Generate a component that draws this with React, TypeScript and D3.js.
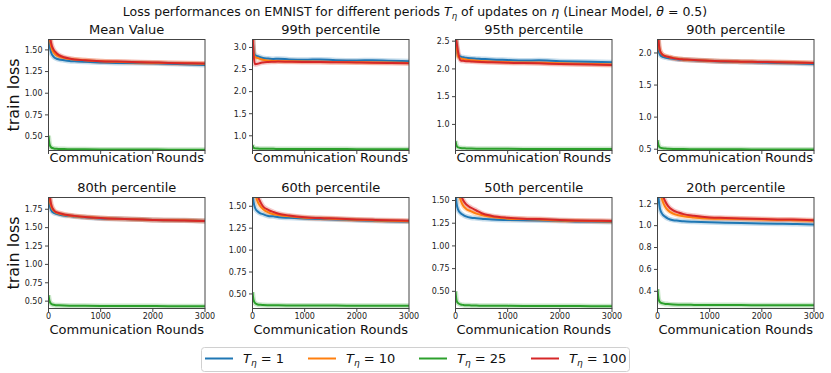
import React from 'react';
import * as d3 from 'd3';

// ---------- data ----------
const ROUNDS = [0, 20, 50, 100, 150, 200, 300, 400, 500, 700, 1000, 1300, 1600, 2000, 2300, 2600, 3000];
const X_TICKS = [0, 1000, 2000, 3000];
const SERIES_T = ['1', '10', '25', '100'];
const COLORS = ['#1f77b4', '#ff7f0e', '#2ca02c', '#d62728'];
const PANEL_TITLES = ['Mean Value', '99th percentile', '95th percentile', '90th percentile', '80th percentile', '60th percentile', '50th percentile', '20th percentile'];

const meanT1 = [1.62, 1.55, 1.47, 1.42, 1.40, 1.39, 1.38, 1.372, 1.368, 1.362, 1.355, 1.35, 1.348, 1.345, 1.34, 1.335, 1.325];
const meanT10 = [1.80, 1.66, 1.54, 1.47, 1.44, 1.425, 1.405, 1.395, 1.39, 1.38, 1.37, 1.363, 1.357, 1.352, 1.348, 1.345, 1.34];
const meanT25 = [0.51, 0.41, 0.375, 0.363, 0.359, 0.357, 0.355, 0.354, 0.353, 0.352, 0.351, 0.351, 0.350, 0.350, 0.349, 0.349, 0.348];
const meanT100 = [1.85, 1.70, 1.58, 1.50, 1.465, 1.44, 1.415, 1.40, 1.39, 1.38, 1.37, 1.365, 1.36, 1.355, 1.35, 1.347, 1.342];

const p99T1 = [3.3, 2.95, 2.82, 2.80, 2.78, 2.76, 2.75, 2.74, 2.745, 2.73, 2.72, 2.73, 2.71, 2.705, 2.71, 2.70, 2.69];
const p99T10 = [3.3, 2.90, 2.78, 2.76, 2.74, 2.72, 2.70, 2.695, 2.69, 2.685, 2.68, 2.675, 2.67, 2.665, 2.66, 2.66, 2.65];
const p99T25 = [0.79, 0.73, 0.715, 0.71, 0.708, 0.706, 0.705, 0.704, 0.703, 0.702, 0.70, 0.70, 0.699, 0.698, 0.697, 0.697, 0.696];
const p99T100 = [3.4, 2.85, 2.62, 2.63, 2.65, 2.66, 2.67, 2.675, 2.68, 2.675, 2.67, 2.67, 2.665, 2.66, 2.655, 2.65, 2.64];

const p95T1 = [2.6, 2.40, 2.25, 2.22, 2.21, 2.20, 2.19, 2.185, 2.18, 2.17, 2.16, 2.15, 2.155, 2.14, 2.135, 2.13, 2.12];
const p95T10 = [2.6, 2.42, 2.22, 2.19, 2.18, 2.17, 2.155, 2.145, 2.14, 2.13, 2.12, 2.115, 2.11, 2.10, 2.095, 2.09, 2.08];
const p95T25 = [0.70, 0.62, 0.585, 0.575, 0.57, 0.568, 0.565, 0.563, 0.562, 0.561, 0.56, 0.559, 0.558, 0.557, 0.556, 0.556, 0.555];
const p95T100 = [2.6, 2.48, 2.30, 2.15, 2.145, 2.14, 2.135, 2.13, 2.125, 2.12, 2.11, 2.105, 2.10, 2.09, 2.085, 2.08, 2.07];

const p90T1 = [2.3, 2.05, 1.97, 1.94, 1.93, 1.92, 1.91, 1.90, 1.895, 1.885, 1.875, 1.865, 1.86, 1.85, 1.845, 1.84, 1.83];
const p90T10 = [2.4, 2.15, 2.02, 1.97, 1.95, 1.94, 1.92, 1.91, 1.90, 1.89, 1.88, 1.87, 1.865, 1.86, 1.855, 1.85, 1.845];
const p90T25 = [0.64, 0.56, 0.525, 0.515, 0.51, 0.508, 0.505, 0.503, 0.502, 0.501, 0.50, 0.499, 0.498, 0.497, 0.496, 0.496, 0.495];
const p90T100 = [2.5, 2.20, 2.03, 1.97, 1.95, 1.94, 1.92, 1.905, 1.90, 1.89, 1.88, 1.87, 1.865, 1.86, 1.855, 1.85, 1.845];

const p80T1 = [1.95, 1.82, 1.74, 1.70, 1.69, 1.68, 1.665, 1.66, 1.65, 1.64, 1.625, 1.62, 1.615, 1.605, 1.60, 1.60, 1.59];
const p80T10 = [2.05, 1.90, 1.79, 1.73, 1.705, 1.69, 1.675, 1.665, 1.655, 1.645, 1.63, 1.62, 1.615, 1.605, 1.60, 1.60, 1.59];
const p80T25 = [0.58, 0.50, 0.465, 0.45, 0.445, 0.443, 0.44, 0.438, 0.437, 0.436, 0.435, 0.434, 0.433, 0.433, 0.432, 0.432, 0.432];
const p80T100 = [2.10, 1.95, 1.82, 1.74, 1.71, 1.70, 1.68, 1.67, 1.66, 1.645, 1.63, 1.62, 1.615, 1.605, 1.60, 1.598, 1.59];

const p60T1 = [1.65, 1.55, 1.48, 1.44, 1.42, 1.41, 1.39, 1.385, 1.375, 1.368, 1.36, 1.355, 1.35, 1.34, 1.335, 1.33, 1.325];
const p60T10 = [1.85, 1.75, 1.65, 1.55, 1.50, 1.47, 1.43, 1.41, 1.40, 1.385, 1.37, 1.363, 1.355, 1.345, 1.34, 1.335, 1.33];
const p60T25 = [0.52, 0.43, 0.395, 0.38, 0.376, 0.374, 0.372, 0.371, 0.37, 0.369, 0.368, 0.367, 0.367, 0.366, 0.366, 0.365, 0.365];
const p60T100 = [1.95, 1.85, 1.75, 1.62, 1.55, 1.50, 1.46, 1.435, 1.415, 1.395, 1.375, 1.365, 1.36, 1.35, 1.345, 1.34, 1.335];

const p50T1 = [1.60, 1.47, 1.40, 1.36, 1.34, 1.325, 1.31, 1.305, 1.30, 1.29, 1.285, 1.282, 1.28, 1.275, 1.27, 1.268, 1.262];
const p50T10 = [1.80, 1.72, 1.62, 1.50, 1.44, 1.41, 1.38, 1.355, 1.34, 1.32, 1.30, 1.295, 1.29, 1.28, 1.277, 1.275, 1.27];
const p50T25 = [0.50, 0.40, 0.37, 0.355, 0.35, 0.347, 0.345, 0.343, 0.342, 0.341, 0.34, 0.339, 0.339, 0.338, 0.338, 0.337, 0.337];
const p50T100 = [1.90, 1.80, 1.70, 1.57, 1.50, 1.46, 1.42, 1.39, 1.36, 1.33, 1.31, 1.30, 1.295, 1.285, 1.28, 1.278, 1.275];

const p20T1 = [1.35, 1.25, 1.15, 1.10, 1.08, 1.065, 1.05, 1.045, 1.04, 1.035, 1.03, 1.027, 1.025, 1.02, 1.018, 1.015, 1.01];
const p20T10 = [1.50, 1.42, 1.32, 1.22, 1.17, 1.14, 1.11, 1.095, 1.085, 1.075, 1.065, 1.062, 1.06, 1.055, 1.052, 1.05, 1.045];
const p20T25 = [0.42, 0.33, 0.30, 0.29, 0.285, 0.283, 0.28, 0.278, 0.277, 0.276, 0.275, 0.274, 0.274, 0.273, 0.273, 0.272, 0.272];
const p20T100 = [1.60, 1.50, 1.40, 1.28, 1.22, 1.18, 1.14, 1.12, 1.105, 1.09, 1.075, 1.07, 1.065, 1.06, 1.057, 1.055, 1.05];

const Y_LIMITS = [[0.339, 1.62], [0.667, 3.18], [0.53, 2.53], [0.48, 2.21], [0.40, 1.91], [0.334, 1.60], [0.311, 1.533], [0.243, 1.257]];
const Y_TICKS = [
  [0.5, 0.75, 1.0, 1.25, 1.5],
  [1.0, 1.5, 2.0, 2.5, 3.0],
  [1.0, 1.5, 2.0, 2.5],
  [0.5, 1.0, 1.5, 2.0],
  [0.5, 0.75, 1.0, 1.25, 1.5, 1.75],
  [0.5, 0.75, 1.0, 1.25, 1.5],
  [0.5, 0.75, 1.0, 1.25, 1.5],
  [0.4, 0.6, 0.8, 1.0, 1.2],
];
const Y_FORMATS = ['.2f', '.1f', '.1f', '.1f', '.2f', '.2f', '.2f', '.1f'];

const PANEL_SERIES = [
  [meanT1, meanT10, meanT25, meanT100],
  [p99T1, p99T10, p99T25, p99T100],
  [p95T1, p95T10, p95T25, p95T100],
  [p90T1, p90T10, p90T25, p90T100],
  [p80T1, p80T10, p80T25, p80T100],
  [p60T1, p60T10, p60T25, p60T100],
  [p50T1, p50T10, p50T25, p50T100],
  [p20T1, p20T10, p20T25, p20T100],
];

// ---------- layout ----------
const W = 831;
const H = 373;
const COL_LEFT = [48.5, 252.5, 455.5, 657.5];
const PANEL_W = 156.5;
const ROW_TOP = [39.5, 197.5];
const PANEL_H = 111;
const FONT = 'DejaVu Sans, Verdana, sans-serif';
const SPINE = '#444';

function Panel({ idx }: { idx: number }) {
  const row = Math.floor(idx / 4);
  const col = idx % 4;
  const left = COL_LEFT[col];
  const top = ROW_TOP[row];
  const x = d3.scaleLinear().domain([0, 3000]).range([left, left + PANEL_W]);
  const y = d3.scaleLinear().domain(Y_LIMITS[idx]).range([top + PANEL_H, top]);
  const fmt = d3.format(Y_FORMATS[idx]);
  const line = d3
    .line<number>()
    .x((_, i) => x(ROUNDS[i]))
    .y((d) => y(d))
    .curve(d3.curveMonotoneX);
  const clipId = `clip-${idx}`;
  const bottom = top + PANEL_H;
  return (
    <g>
      <defs>
        <clipPath id={clipId}>
          <rect x={left} y={top} width={PANEL_W} height={PANEL_H} />
        </clipPath>
      </defs>
      <g clipPath={`url(#${clipId})`}>
        {PANEL_SERIES[idx].map((s, i) => (
          <path key={`b${i}`} d={line(s) || ''} fill="none" stroke={COLORS[i]} strokeOpacity={0.25} strokeWidth={5} strokeLinejoin="round" />
        ))}
        {PANEL_SERIES[idx].map((s, i) => (
          <path key={`l${i}`} d={line(s) || ''} fill="none" stroke={COLORS[i]} strokeWidth={2} strokeLinejoin="round" />
        ))}
      </g>
      <rect x={left} y={top} width={PANEL_W} height={PANEL_H} fill="none" stroke={SPINE} strokeWidth={1} />
      {Y_TICKS[idx].map((t) => (
        <g key={`y${t}`}>
          <line x1={left - 3.5} x2={left} y1={y(t)} y2={y(t)} stroke={SPINE} strokeWidth={1} />
          <text x={left - 6} y={y(t)} dy="0.35em" textAnchor="end" fontSize={8} fontFamily={FONT} fill="#222">
            {fmt(t)}
          </text>
        </g>
      ))}
      {X_TICKS.map((t) => (
        <g key={`x${t}`}>
          <line x1={x(t)} x2={x(t)} y1={bottom} y2={bottom + 3.5} stroke={SPINE} strokeWidth={1} />
          {row === 1 && (
            <text x={x(t)} y={bottom + 10.5} textAnchor="middle" fontSize={8} fontFamily={FONT} fill="#222">
              {t}
            </text>
          )}
        </g>
      ))}
      <text x={left + PANEL_W / 2} y={row === 0 ? 162 : 333.5} textAnchor="middle" fontSize={13} fontFamily={FONT} fill="#111">
        Communication Rounds
      </text>
      <text x={left + PANEL_W / 2} y={top - 5.5} textAnchor="middle" fontSize={13} fontFamily={FONT} fill="#111">
        {PANEL_TITLES[idx]}
      </text>
    </g>
  );
}

function LegendLabel({ x, y, t }: { x: number; y: number; t: string }) {
  return (
    <text x={x} y={y} fontSize={13} fontFamily={FONT} fill="#111">
      <tspan fontStyle="italic">T</tspan>
      <tspan fontStyle="italic" fontSize={9} dy={3}>η</tspan>
      <tspan dy={-3}>{' = ' + t}</tspan>
    </text>
  );
}

export default function App() {
  const legendX = [205, 308, 419, 531];
  return (
    <svg width={W} height={H} style={{ position: 'absolute', left: 0, top: 0, background: '#fff' }}>
      <rect x={0} y={0} width={W} height={H} fill="#fff" />
      <text x={415} y={15.5} textAnchor="middle" fontSize={12.5} fontFamily={FONT} fill="#111">
        {'Loss performances on EMNIST for different periods '}
        <tspan fontStyle="italic">T</tspan>
        <tspan fontStyle="italic" fontSize={8.5} dy={3}>η</tspan>
        <tspan dy={-3}>{' of updates on '}</tspan>
        <tspan fontStyle="italic">η</tspan>
        <tspan>{' (Linear Model, '}</tspan>
        <tspan fontStyle="italic">θ</tspan>
        <tspan>{' = 0.5)'}</tspan>
      </text>
      {[0, 1].map((r) => (
        <text
          key={r}
          transform={`translate(18.5, ${ROW_TOP[r] + PANEL_H / 2}) rotate(-90)`}
          textAnchor="middle"
          fontSize={16}
          fontFamily={FONT}
          fill="#111"
        >
          train loss
        </text>
      ))}
      {PANEL_TITLES.map((_, i) => (
        <Panel key={i} idx={i} />
      ))}
      <rect x={201.5} y={347.5} width={428} height={24} rx={3} fill="#fff" stroke="#d0d0d0" strokeWidth={1} />
      {SERIES_T.map((t, i) => (
        <g key={t}>
          <line x1={legendX[i]} x2={legendX[i] + 28} y1={358.5} y2={358.5} stroke={COLORS[i]} strokeWidth={2} />
          <LegendLabel x={legendX[i] + 38} y={363} t={t} />
        </g>
      ))}
    </svg>
  );
}
